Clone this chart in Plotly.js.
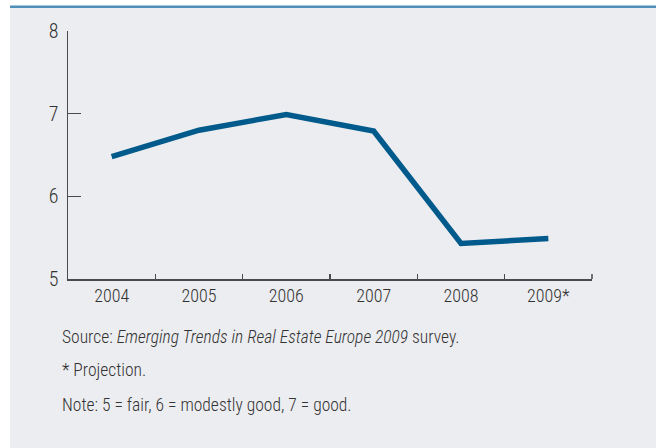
<!DOCTYPE html>
<html>
<head>
<meta charset="utf-8">
<script src="https://cdn.plot.ly/plotly-3.0.1.min.js"></script>
<style>
html,body{margin:0;padding:0;background:#ffffff;}
#chart{width:660px;height:448px;}
#chart text{font-stretch:75%;}
</style>
</head>
<body>
<div id="chart"></div>
<script>
var years = ["2004", "2005", "2006", "2007", "2008", "2009*"];
var scores = [6.48, 6.80, 6.99, 6.79, 5.43, 5.49];
var yTicks = [5, 6, 7, 8];
var notes = [
  "Source: <i>Emerging Trends in Real Estate Europe 2009</i> survey.",
  "* Projection.",
  "Note: 5 = fair, 6 = modestly good, 7 = good."
];

var FONT = 'Roboto, "Open Sans", "DejaVu Sans Condensed", sans-serif';
var L = 68, R = 68, T = 31, B = 169;
var W = 660 - L - R, H = 448 - T - B;
function px(x){ return (x - L) / W; }
function py(y){ return (448 - B - y) / H; }

var trace = {
  x: years,
  y: scores,
  type: 'scatter',
  mode: 'lines',
  line: {color: '#005a8b', width: 5.5},
  hoverinfo: 'skip'
};

var noteY = [337, 370, 405];
var annotations = notes.map(function(t, i){
  return {
    text: t, xref: 'paper', yref: 'paper',
    x: px(60), y: py(noteY[i]), xanchor: 'left', yanchor: 'middle', align: 'left',
    showarrow: false, font: {family: FONT, size: 17.5, weight: 350, color: '#333333'}
  };
});

var layout = {
  width: 660, height: 448,
  margin: {l: L, r: R, t: T, b: B, pad: 0},
  paper_bgcolor: '#ffffff',
  plot_bgcolor: 'rgba(0,0,0,0)',
  showlegend: false,
  font: {family: FONT, color: '#333333'},
  xaxis: {
    type: 'category',
    range: [-0.5, 5.5],
    showgrid: false, zeroline: false,
    showline: true, linecolor: '#4a4a4a', linewidth: 1.5,
    ticks: 'inside', tickson: 'boundaries', ticklen: 5, tickwidth: 1.5, tickcolor: '#4a4a4a',
    tickfont: {family: FONT, size: 18, weight: 350, color: '#333333'},
    fixedrange: true
  },
  yaxis: {
    range: [5, 8],
    tickvals: yTicks,
    showgrid: false, zeroline: false,
    showline: true, linecolor: '#4a4a4a', linewidth: 1.5,
    ticks: 'inside', ticklen: 13, tickwidth: 1.5, tickcolor: '#4a4a4a',
    ticklabelstandoff: 4,
    tickfont: {family: FONT, size: 20, weight: 350, color: '#333333'},
    fixedrange: true
  },
  shapes: [
    {type: 'rect', xref: 'paper', yref: 'paper', layer: 'below',
     x0: px(10), x1: px(656), y0: py(448), y1: py(6),
     fillcolor: '#ecedf0', line: {width: 0}},
    {type: 'line', xref: 'paper', yref: 'paper', layer: 'below',
     x0: px(10), x1: px(656), y0: py(6.7), y1: py(6.7),
     line: {color: '#4f8fb8', width: 2.5}},
    {type: 'line', xref: 'paper', yref: 'paper', layer: 'above',
     x0: 1, x1: 1, y0: 0, y1: 5 / H,
     line: {color: '#4a4a4a', width: 1.5}}
  ],
  annotations: annotations
};

Plotly.newPlot('chart', [trace], layout, {displayModeBar: false, staticPlot: true});
</script>
</body>
</html>
